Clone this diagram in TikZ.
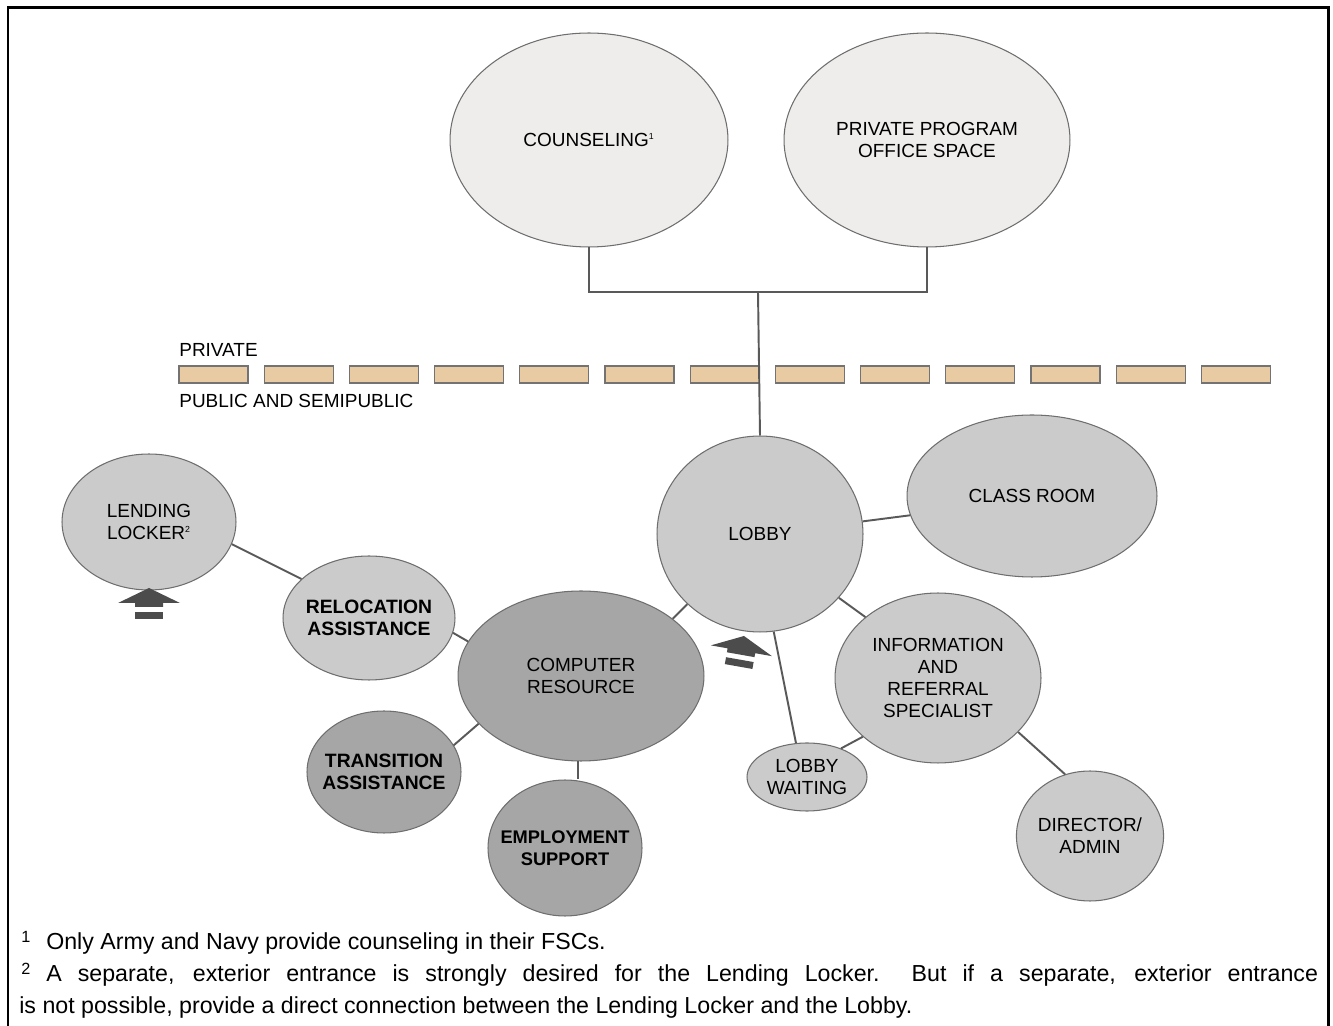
\documentclass[tikz,border=0pt]{standalone}
\usepackage{fontspec}
\setmainfont{Liberation Sans}
\usetikzlibrary{shapes.geometric}
\definecolor{privgray}{HTML}{EEEDEB}
\definecolor{roomgray}{HTML}{CBCBCB}
\definecolor{deepgray}{HTML}{A6A6A6}
\definecolor{barfill}{HTML}{E9CBA3}
\definecolor{edgegray}{HTML}{6E6E6E}
\begin{document}
\begin{tikzpicture}[
        x=0.02cm, y=-0.02cm,
        font=\fontsize{10.8}{12.5}\selectfont
    ]
    \tikzset{
        room/.style = {ellipse, draw=edgegray, line width=0.6pt, align=center, inner sep=0pt, fill=roomgray},
        privroom/.style = {room, fill=privgray},
        deeproom/.style = {room, fill=deepgray},
        boldtext/.style = {inner xsep=-8pt, font=\fontsize{11}{12.5}\selectfont\bfseries},
        link/.style = {draw=black!65, line width=1.1pt},
        zonebar/.style = {draw=black!55, line width=0.6pt, fill=barfill},
        entry/.style = {fill=black!70, draw=none},
        zonelabel/.style = {anchor=base west, inner sep=0pt, font=\fontsize{10.8}{13}\selectfont},
        note/.style = {anchor=base west, inner sep=0pt, font=\fontsize{13.2}{15}\selectfont}
    }
    \useasboundingbox (0,0) rectangle (1333,1026);
    \draw[line width=1.7pt] (8,1026) -- (8,8) -- (1328,8) -- (1328,1026);

    \node[privroom, minimum width=5.56cm, minimum height=4.28cm] at (589,140) (couns) {COUNSELING\textsuperscript{\tiny 1}};
    \node[privroom, minimum width=5.72cm, minimum height=4.28cm] at (927,140) (priv) {PRIVATE PROGRAM\\OFFICE SPACE};

    \node[zonelabel] at (179,357) (lblpriv) {PRIVATE};
    \foreach \i in {0,...,12}
        \draw[zonebar] (179+\i*85.2,366) rectangle ++(69,17);
    \node[zonelabel] at (179,408) (lblpub) {PUBLIC AND SEMIPUBLIC};

    \node[room, minimum width=3.48cm, minimum height=2.72cm] at (149,522) (lend) {LENDING\\LOCKER\textsuperscript{\tiny 2}};
    \node[room, boldtext, minimum width=3.44cm, minimum height=2.48cm] at (369,618) (reloc) {RELOCATION\\ASSISTANCE};
    \node[deeproom, minimum width=4.92cm, minimum height=3.4cm] at (581,676) (comp) {COMPUTER\\RESOURCE};
    \node[deeproom, boldtext, minimum width=3.08cm, minimum height=2.44cm] at (384,772) (trans) {TRANSITION\\ASSISTANCE};
    \node[deeproom, boldtext, font=\fontsize{10.4}{12.5}\selectfont\bfseries, minimum width=3.08cm, minimum height=2.72cm] at (565,848) (emp) {EMPLOYMENT\\SUPPORT};
    \node[room, minimum width=4.12cm, minimum height=3.92cm] at (760,534) (lobby) {LOBBY};
    \node[room, minimum width=5.0cm, minimum height=3.24cm] at (1032,496) (class) {CLASS ROOM};
    \node[room, minimum width=4.12cm, minimum height=3.4cm] at (938,678) (info) {INFORMATION\\AND\\REFERRAL\\SPECIALIST};
    \node[room, minimum width=2.4cm, minimum height=1.36cm] at (807,777) (wait) {LOBBY\\WAITING};
    \node[room, minimum width=2.8cm, minimum height=2.6cm] at (1090,836) (dir) {DIRECTOR/\\ADMIN};

    \coordinate (jn) at (758,292);
    \draw[link] (couns.south) |- (jn) -| (priv.south);
    \draw[link] (jn) -- (lobby.north);
    \draw[link] (lend.-15) -- (reloc.150);
    \draw[link] (reloc.-10) -- (comp.163);
    \draw[link] (comp.32) -- (lobby.224);
    \draw[link] (comp.205) -- (trans.21);
    \draw[link] (comp.-92) -- (comp.-92 |- emp.north);
    \draw[link] (lobby.7) -- (class.189);
    \draw[link] (lobby.-39) -- (info.140);
    \draw[link] (lobby.-82) -- (wait.108);
    \draw[link] (info.218) -- (wait.40);
    \draw[link] (info.-34) -- (dir.112);

    \fill[entry] (149,588) -- (180,603) -- (163,603) -- (163,607) -- (135,607) -- (135,603) -- (118,603) -- cycle;
    \fill[entry] (135,612) rectangle (163,619);
    \begin{scope}[shift={(744,636)}, rotate=-10]
        \fill[entry] (0,0) -- (31,15) -- (14,15) -- (14,19) -- (-14,19) -- (-14,15) -- (-31,15) -- cycle;
        \fill[entry] (-14,24) rectangle (14,31);
    \end{scope}

    \node[note] at (21,950) (fn1) {\textsuperscript{1}\hspace{0.3cm}Only Army and Navy provide counseling in their FSCs.};
    \node[note] at (21,982) (fn2) {\makebox[25.94cm][s]{\textsuperscript{2}\hspace{0.3cm}A separate, exterior entrance is strongly desired for the Lending Locker.\ \ But if a separate, exterior entrance}};
    \node[note] at (19,1013) (fn3) {is not possible, provide a direct connection between the Lending Locker and the Lobby.};
\end{tikzpicture}
\end{document}
